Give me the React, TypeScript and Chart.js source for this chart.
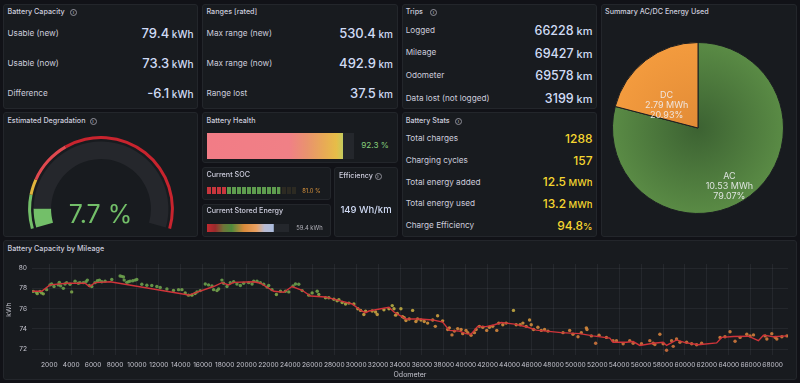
import React, { useEffect, useRef } from 'react';
import { Chart, registerables } from 'chart.js';
Chart.register(...registerables);

const FONT = 'Inter, "Noto Sans", sans-serif';

// ---------------- data ----------------
const capLabels = ['Usable (new)', 'Usable (now)', 'Difference'];
const capValues = ['79.4', '73.3', '-6.1'];
const capUnits = [' kWh', ' kWh', ' kWh'];
const rangeLabels = ['Max range (new)', 'Max range (now)', 'Range lost'];
const rangeValues = ['530.4', '492.9', '37.5'];
const rangeUnits = [' km', ' km', ' km'];
const tripLabels = ['Logged', 'Mileage', 'Odometer', 'Data lost (not logged)'];
const tripValues = ['66228', '69427', '69578', '3199'];
const tripUnits = [' km', ' km', ' km', ' km'];
const statLabels = ['Total charges', 'Charging cycles', 'Total energy added', 'Total energy used', 'Charge Efficiency'];
const statValues = ['1288', '157', '12.5', '13.2', '94.8'];
const statUnits = ['', '', ' MWh', ' MWh', '%'];

const degradation = 7.7;
const gaugeMax = 100;
const gaugeSteps = [0, 13, 19, 36];
const batteryHealth = 92.3;
const socPercent = 81.0;
const storedEnergy = 59.4;
const capacityNow = 73.3;
const efficiency = 149;

const pieLabels = ['AC', 'DC'];
const pieMWh = [10.53, 2.79];
const piePct = [79.07, 20.93];

const lineOdo = [446, 1300, 2060, 3580, 5260, 5660, 6170, 7550, 14710, 16990, 17750, 18360, 18820, 20650, 21260, 22480, 23390, 24150, 25070, 25830, 27200, 28570, 29640, 30400, 30860, 31160, 32990, 33450, 33930, 34540, 35760, 36980, 37890, 38500, 39420, 40030, 40480, 41090, 41850, 42620, 43230, 44450, 45670, 46430, 47340, 48710, 50390, 51610, 53140, 53440, 54660, 55270, 55880, 57100, 58010, 58320, 59230, 60000, 61220, 62890, 63350, 64420, 65790, 66700, 67160, 68080, 69300];
const lineKwh = [77.71, 77.71, 78.34, 78.5, 78.5, 78.18, 78.56, 78.65, 77.34, 78.18, 78.56, 78.34, 78.59, 78.65, 78.5, 77.71, 77.62, 78.18, 77.81, 77.24, 77.15, 76.77, 76.46, 75.83, 75.61, 75.77, 76.14, 75.67, 75.36, 74.98, 74.98, 74.89, 74.67, 73.86, 73.79, 73.54, 73.48, 74.26, 74.23, 74.42, 74.64, 74.48, 74.17, 73.89, 73.79, 73.64, 73.54, 73.32, 73.1, 72.7, 72.7, 72.76, 72.38, 72.6, 72.7, 72.38, 72.92, 72.66, 72.45, 72.63, 73.17, 73.26, 73.29, 72.85, 73.39, 73.23, 73.32];

const pointOdo = [537, 842, 900, 1150, 1300, 1450, 1760, 2060, 2210, 2430, 2820, 2910, 3040, 3280, 3430, 3580, 3890, 4040, 4350, 4650, 4800, 5110, 5350, 5470, 5650, 5870, 6170, 6390, 6570, 6790, 7090, 7700, 8460, 8610, 8770, 8830, 9070, 9220, 9370, 9620, 9830, 9980, 10440, 10900, 11350, 11810, 12120, 12730, 13330, 13790, 14100, 14400, 14700, 15010, 15300, 15470, 15770, 16230, 16530, 16840, 16990, 17300, 17450, 17750, 17900, 18210, 18510, 18820, 19120, 19430, 19730, 20190, 20500, 20650, 20950, 21260, 21560, 21870, 22020, 22320, 22720, 23090, 23540, 23850, 24240, 24460, 24760, 25070, 25680, 25980, 26440, 26590, 27200, 27500, 27960, 28260, 28420, 28720, 29030, 29330, 29790, 30150, 30400, 30700, 30860, 31460, 31770, 31920, 32530, 32990, 33290, 33450, 33600, 33750,
  34080, 34230, 34380, 34540, 34840, 35150, 35450, 35600, 35910, 36210, 36520, 36980, 37220, 37430, 37890, 38350, 38500, 38740, 38960, 39260, 39570, 39720, 40020, 40180, 40480, 40790, 40940, 41240, 41550, 41910, 42160, 42460, 42830, 43010, 43380, 43680, 44350, 44600, 44960, 45210, 45510, 45820, 45970, 46180, 46580, 46890, 47190, 47500, 48870, 49480, 49780, 50240, 50540, 51000, 51060, 51460, 51850, 52160, 52830, 53440, 53750, 54360, 54960, 55270, 56030, 56790, 57100, 57250, 57710, 58010, 58320, 58780, 58930, 59230, 59540, 60150, 60610, 61060, 61520, 63200, 63650, 64110, 64570, 65030, 65640, 65940, 66250, 67310, 67470, 67920, 68230, 68380, 68840, 69300];
const pointKwh = [77.7, 77.6, 77.48, 77.7, 77.55, 77.46, 77.87, 78.34, 78.43, 78.18, 78.34, 78.59, 78.24, 78.0, 78.43, 78.56, 78.4, 77.65, 78.71, 78.5, 78.56, 78.56, 78.65, 78.81, 78.28, 78.18, 78.56, 78.75, 78.81, 78.65, 78.71, 78.87, 79.22, 79.18, 79.12, 78.81, 78.59, 78.65, 78.71, 78.75, 78.81, 78.87, 78.4, 78.31, 78.28, 78.18, 78.09, 77.93, 77.8, 77.87, 77.87, 77.55, 77.33, 77.33, 77.49, 77.65, 77.78, 78.43, 78.34, 78.24, 77.87, 77.78, 77.93, 78.81, 78.5, 78.18, 78.56, 78.65, 78.43, 78.28, 78.5, 78.56, 78.43, 78.71, 78.71, 78.56, 78.4, 78.12, 78.28, 77.87, 77.4, 77.71, 77.71, 77.65, 78.24, 78.43, 78.4, 77.78, 77.33, 77.55, 77.71, 77.4, 77.08, 77.08, 76.93, 76.77, 76.87, 76.61, 76.46, 76.55, 76.46, 75.99, 75.83, 75.42, 75.74, 75.77, 75.67, 75.42, 75.89, 75.99, 76.3, 75.99, 75.36, 75.52,
  75.99, 75.2, 75.11, 74.83, 74.98, 75.83, 74.73, 74.98, 74.89, 74.73, 74.58, 74.89, 74.26, 75.3, 74.8, 73.95, 74.11, 73.42, 73.79, 74.04, 73.95, 73.54, 73.86, 73.64, 73.39, 73.64, 73.95, 74.26, 74.17, 73.86, 74.17, 74.26, 73.86, 74.58, 74.42, 74.58, 75.83, 74.42, 74.42, 74.58, 74.26, 74.89, 74.42, 73.95, 74.17, 73.86, 73.95, 73.79, 73.64, 73.86, 73.48, 73.23, 73.64, 74.11, 73.95, 73.32, 72.6, 73.39, 73.17, 72.85, 72.85, 72.54, 72.85, 72.6, 72.54, 72.85, 72.6, 72.48, 73.48, 72.54, 71.91, 72.85, 72.29, 73.01, 72.7, 72.7, 72.54, 72.45, 72.6, 73.17, 73.23, 73.73, 72.79, 73.17, 73.48, 73.32, 73.42, 73.32, 73.01, 73.54, 73.17, 73.01, 73.23, 73.32];

const xTickValues = [2000, 4000, 6000, 8000, 10000, 12000, 14000, 16000, 18000, 20000, 22000, 24000, 26000, 28000, 30000, 32000, 34000, 36000, 38000, 40000, 42000, 44000, 46000, 48000, 50000, 52000, 54000, 56000, 58000, 60000, 62000, 64000, 66000, 68000];
const yTickValues = [72, 74, 76, 78, 80];

// ---------------- styling helpers ----------------
const COLOR_STOPS: [number, number[]][] = [
  [72, [205, 110, 60]],
  [74, [212, 135, 60]],
  [75, [208, 152, 62]],
  [76, [192, 172, 66]],
  [77, [148, 170, 70]],
  [78, [108, 160, 76]],
];
function kwhColor(v: number) {
  if (v <= COLOR_STOPS[0][0]) return `rgba(${COLOR_STOPS[0][1].join(',')},0.9)`;
  for (let i = 1; i < COLOR_STOPS.length; i++) {
    const [v1, c1] = COLOR_STOPS[i];
    const [v0, c0] = COLOR_STOPS[i - 1];
    if (v <= v1) {
      const t = (v - v0) / (v1 - v0);
      const c = c0.map((a, k) => Math.round(a + (c1[k] - a) * t));
      return `rgba(${c.join(',')},0.9)`;
    }
  }
  return `rgba(${COLOR_STOPS[COLOR_STOPS.length - 1][1].join(',')},0.9)`;
}

const PANEL_BG = '#181b1f';
const TITLE = 7.2;
const LABEL = 8.2;

function Txt(props: any) {
  const { x, y, size, color = '#ccccdc', weight = 400, align = 'left', children } = props;
  const style: any = {
    position: 'absolute', top: y - size * 0.6, height: size * 1.2, lineHeight: `${size * 1.2}px`,
    fontSize: size, fontWeight: weight, color, whiteSpace: 'nowrap', fontFamily: FONT,
  };
  if (align === 'left') style.left = x;
  else if (align === 'right') style.right = 800 - x;
  else { style.left = x; style.transform = 'translateX(-50%)'; }
  return <div style={style}>{children}</div>;
}

function Info({ x, y }: any) {
  return <div style={{ position: 'absolute', left: x - 3.5, top: y - 3.5, width: 7, height: 7, borderRadius: '50%', border: '1px solid #8f8f99', boxSizing: 'border-box', fontSize: 5, lineHeight: '5px', textAlign: 'center', color: '#8f8f99', fontFamily: FONT, fontWeight: 700 }}>i</div>;
}

function Panel({ x, y, w, h }: any) {
  return <div style={{ position: 'absolute', left: x, top: y, width: w, height: h, background: PANEL_BG, border: '1px solid #23262b', borderRadius: 3, boxSizing: 'border-box' }} />;
}

function Val({ x, y, num, unit, size, usize, color }: any) {
  return (
    <Txt x={x} y={y} size={size} color={color} weight={500} align="right">
      <span>{num}</span><span style={{ fontSize: usize }}>{unit}</span>
    </Txt>
  );
}

// ---------------- charts ----------------
function MileageChart() {
  const ref = useRef<HTMLCanvasElement>(null);
  useEffect(() => {
    const grid = { color: 'rgba(204,204,220,0.07)', drawTicks: false, lineWidth: 1 };
    const tickFont = { family: FONT, size: 6.6 };
    const chart = new Chart(ref.current as HTMLCanvasElement, {
      type: 'scatter',
      data: {
        datasets: [
          { data: lineOdo.map((x, i) => ({ x, y: lineKwh[i] })), showLine: true, borderColor: '#d0343a', borderWidth: 1.4, pointRadius: 0, tension: 0 } as any,
          { data: pointOdo.map((x, i) => ({ x, y: pointKwh[i] })), pointRadius: 1.7, pointBackgroundColor: pointKwh.map(kwhColor), pointBorderWidth: 0, borderWidth: 0 } as any,
        ],
      },
      options: {
        responsive: false, animation: false, events: [],
        layout: { padding: { top: 4.75, right: 9, bottom: 0, left: 0 } },
        plugins: { legend: { display: false }, tooltip: { enabled: false } },
        scales: {
          x: {
            type: 'linear', min: 420, max: 69400,
            afterBuildTicks: (s: any) => { s.ticks = xTickValues.map((value) => ({ value })); },
            afterFit: (s: any) => { s.height = 24.6; },
            grid, border: { display: false },
            ticks: { color: '#c4c4ce', font: tickFont, padding: 6, maxRotation: 0, autoSkip: false, callback: (v: any) => String(v) },
            title: { display: true, text: 'Odometer', color: '#c4c4ce', font: { family: FONT, size: 7 }, padding: { top: 0, bottom: 0.5 } },
          },
          y: {
            type: 'linear', min: 71.4, max: 80.4,
            afterBuildTicks: (s: any) => { s.ticks = yTickValues.map((value) => ({ value })); },
            afterFit: (s: any) => { s.width = 29; },
            grid, border: { display: false },
            ticks: { color: '#c4c4ce', font: tickFont, padding: 5, callback: (v: any) => String(v) },
            title: { display: true, text: 'kWh', color: '#c4c4ce', font: { family: FONT, size: 6.6 }, padding: { top: 2.5, bottom: 0 } },
          },
        },
      } as any,
    });
    return () => chart.destroy();
  }, []);
  return <canvas ref={ref} width={794} height={125} style={{ position: 'absolute', left: 3, top: 255, width: 794, height: 125 }} />;
}

function PieChart() {
  const ref = useRef<HTMLCanvasElement>(null);
  useEffect(() => {
    const grad = (inner: string, outer: string) => (ctx: any) => {
      const ca = ctx.chart.chartArea;
      if (!ca) return outer;
      const cx = (ca.left + ca.right) / 2, cy = (ca.top + ca.bottom) / 2;
      const r = Math.min(ca.right - ca.left, ca.bottom - ca.top) / 2;
      const g = ctx.chart.ctx.createRadialGradient(cx, cy, 0, cx, cy, r);
      g.addColorStop(0, inner);
      g.addColorStop(1, outer);
      return g;
    };
    const fills = [grad('#3c6232', '#5a8b45'), grad('#e28b36', '#f39b3e')];
    const labelPlugin = {
      id: 'pieLabels',
      afterDatasetsDraw(chart: any) {
        const meta = chart.getDatasetMeta(0);
        const c = chart.ctx;
        meta.data.forEach((arc: any, i: number) => {
          const p = arc.getProps(['x', 'y', 'startAngle', 'endAngle', 'outerRadius'], true);
          const mid = (p.startAngle + p.endAngle) / 2;
          const r = p.outerRadius * 0.6;
          const px = p.x + Math.cos(mid) * r;
          const py = p.y + Math.sin(mid) * r;
          const lines = [pieLabels[i], pieMWh[i].toFixed(2) + ' MWh', piePct[i].toFixed(2) + '%'];
          c.save();
          c.font = `9px ${FONT}`;
          c.fillStyle = 'rgba(240,240,245,0.88)';
          c.textAlign = 'center';
          c.textBaseline = 'middle';
          lines.forEach((t, k) => c.fillText(t, px, py + 8 + k * 9.7));
          c.restore();
        });
      },
    };
    const chart = new Chart(ref.current as HTMLCanvasElement, {
      type: 'pie',
      data: { labels: pieLabels, datasets: [{ data: pieMWh, backgroundColor: (ctx: any) => fills[ctx.dataIndex](ctx), borderColor: '#1b1e22', borderWidth: 1 }] },
      options: { responsive: false, animation: false, events: [], plugins: { legend: { display: false }, tooltip: { enabled: false } } } as any,
      plugins: [labelPlugin],
    });
    return () => chart.destroy();
  }, []);
  return <canvas ref={ref} width={172} height={172} style={{ position: 'absolute', left: 612, top: 41.5, width: 172, height: 172 }} />;
}

function Gauge() {
  const ref = useRef<HTMLCanvasElement>(null);
  useEffect(() => {
    const seg = gaugeSteps.map((s, i) => (i < gaugeSteps.length - 1 ? gaugeSteps[i + 1] : gaugeMax) - s);
    const chart = new Chart(ref.current as HTMLCanvasElement, {
      type: 'doughnut',
      data: {
        datasets: [
          { data: seg, backgroundColor: ['#73bf69', '#e0b53c', '#e0494f', '#c8242e'], borderWidth: 0, weight: 3 } as any,
          { data: [gaugeMax], backgroundColor: ['rgba(0,0,0,0)'], borderWidth: 0, weight: 2.5 } as any,
          { data: [degradation, gaugeMax - degradation], backgroundColor: ['#73bf69', '#25272c'], borderWidth: 0, weight: 17.5 } as any,
        ],
      },
      options: {
        responsive: false, animation: false, events: [],
        rotation: -106, circumference: 212, cutout: `${(50 / 73) * 100}%`,
        plugins: { legend: { display: false }, tooltip: { enabled: false } },
      } as any,
    });
    return () => chart.destroy();
  }, []);
  return <canvas ref={ref} width={146} height={93} style={{ position: 'absolute', left: 28, top: 136, width: 146, height: 93 }} />;
}

function BarGauge({ left, top, width, height, value, max, stops, track, cells }: any) {
  const ref = useRef<HTMLCanvasElement>(null);
  useEffect(() => {
    const bg = (ctx: any) => {
      const ca = ctx.chart.chartArea;
      if (!ca) return stops[0][1];
      const g = ctx.chart.ctx.createLinearGradient(ca.left, 0, ca.right, 0);
      stops.forEach(([o, c]: any) => g.addColorStop(o, c));
      return g;
    };
    const trackPlugin = {
      id: 'track',
      beforeDatasetsDraw(chart: any) {
        const { left: l, top: t, right: r, bottom: b } = chart.chartArea;
        const c = chart.ctx;
        c.save();
        c.fillStyle = track;
        c.fillRect(l, t, r - l, b - t);
        c.restore();
      },
      afterDatasetsDraw(chart: any) {
        if (!cells) return;
        const { left: l, top: t, right: r, bottom: b } = chart.chartArea;
        const c = chart.ctx;
        const cw = (r - l) / cells;
        c.save();
        c.fillStyle = PANEL_BG;
        for (let i = 1; i <= cells; i++) c.fillRect(l + i * cw - 1, t, 1, b - t);
        c.restore();
      },
    };
    const chart = new Chart(ref.current as HTMLCanvasElement, {
      type: 'bar',
      data: { labels: ['v'], datasets: [{ data: [value], backgroundColor: bg, borderWidth: 0, barPercentage: 1, categoryPercentage: 1 }] },
      options: {
        indexAxis: 'y', responsive: false, animation: false, events: [],
        plugins: { legend: { display: false }, tooltip: { enabled: false } },
        scales: { x: { display: false, min: 0, max }, y: { display: false } },
      } as any,
      plugins: [trackPlugin],
    });
    return () => chart.destroy();
  }, []);
  return <canvas ref={ref} width={width} height={height} style={{ position: 'absolute', left, top, width, height }} />;
}

// ---------------- app ----------------
export default function App() {
  const statBlue = '#d0dbf5';
  const yellow = '#f5d630';
  return (
    <div style={{ position: 'fixed', left: 0, top: 0, width: 800, height: 383, background: '#111217', overflow: 'hidden', fontFamily: FONT }}>
      <Panel x={3} y={4} w={195} h={105} />
      <Panel x={202} y={4} w={196} h={105} />
      <Panel x={402} y={4} w={195} h={105} />
      <Panel x={601} y={4} w={196} h={233} />
      <Panel x={3} y={112} w={195} h={125} />
      <Panel x={202} y={112} w={196} h={51} />
      <Panel x={202} y={167} w={129} h={33} />
      <Panel x={202} y={204} w={129} h={33} />
      <Panel x={334} y={167} w={64} h={70} />
      <Panel x={402} y={112} w={195} h={125} />
      <Panel x={3} y={240} w={794} h={140} />

      {/* Battery Capacity */}
      <Txt x={7.5} y={12.7} size={TITLE} weight={500}>Battery Capacity</Txt>
      <Info x={73.5} y={12.7} />
      {capLabels.map((l, i) => <Txt key={l} x={7.5} y={34.3 + i * 30} size={LABEL}>{l}</Txt>)}
      {capValues.map((v, i) => <Val key={i} x={193.5} y={34 + i * 30} num={v} unit={capUnits[i]} size={13} usize={10} color={statBlue} />)}

      {/* Ranges */}
      <Txt x={206.5} y={12.7} size={TITLE} weight={500}>Ranges [rated]</Txt>
      {rangeLabels.map((l, i) => <Txt key={l} x={206.5} y={34.3 + i * 30} size={LABEL}>{l}</Txt>)}
      {rangeValues.map((v, i) => <Val key={i} x={393} y={34 + i * 30} num={v} unit={rangeUnits[i]} size={13} usize={10} color={statBlue} />)}

      {/* Trips */}
      <Txt x={405.7} y={12.7} size={TITLE} weight={500}>Trips</Txt>
      <Info x={433.5} y={12.7} />
      {tripLabels.map((l, i) => <Txt key={l} x={405.7} y={30.7 + i * 22.7} size={LABEL}>{l}</Txt>)}
      {tripValues.map((v, i) => <Val key={i} x={592.5} y={30.5 + i * 22.7} num={v} unit={tripUnits[i]} size={12.5} usize={11} color={statBlue} />)}

      {/* Pie */}
      <Txt x={605} y={12.7} size={TITLE} weight={500}>Summary AC/DC Energy Used</Txt>
      <PieChart />

      {/* Estimated Degradation */}
      <Txt x={7.5} y={121.7} size={TITLE} weight={500}>Estimated Degradation</Txt>
      <Info x={93} y={121.7} />
      <Gauge />
      <Txt x={100.5} y={214} size={25} color="#73bf69" align="center">{degradation.toFixed(1)} %</Txt>

      {/* Battery Health */}
      <Txt x={206.5} y={121.7} size={TITLE} weight={500}>Battery Health</Txt>
      <BarGauge left={207} top={133} width={147} height={26} value={batteryHealth} max={100} track="#24272c"
        stops={[[0, '#f27c86'], [0.56, '#f08086'], [0.68, '#e9936e'], [0.8, '#e8ab55'], [0.88, '#e6bd48'], [0.92, '#c9c95a'], [0.935, '#a4d27c'], [1, '#a4d27c']]} />
      <Txt x={375} y={146} size={8.2} color="#86cf7c" align="center">{batteryHealth.toFixed(1)} %</Txt>

      {/* Current SOC */}
      <Txt x={206.5} y={175.7} size={TITLE} weight={500}>Current SOC</Txt>
      <BarGauge left={207} top={187} width={90} height={7} value={socPercent} max={100} track="#2c2a22" cells={18}
        stops={[[0, '#c8363d'], [0.22, '#c8363d'], [0.2201, '#5e9c4e'], [1, '#5e9c4e']]} />
      <Txt x={311.5} y={191} size={5.8} color="#d8923c" align="center">{socPercent.toFixed(1)} %</Txt>

      {/* Current Stored Energy */}
      <Txt x={206.5} y={211.7} size={TITLE} weight={500}>Current Stored Energy</Txt>
      <BarGauge left={207} top={224} width={82} height={8} value={storedEnergy} max={capacityNow} track="#24272c"
        stops={[[0, '#c22a30'], [0.1, '#9a2a2c'], [0.2, '#6e7438'], [0.3, '#4f8a3c'], [0.45, '#d8893a'], [0.6, '#e9a061'], [0.7, '#b9bad0'], [0.83, '#a9bde2'], [1, '#a9bde2']]} />
      <Txt x={309.5} y={228} size={5.8} color="#b4b4bc" align="center">{storedEnergy.toFixed(1)} kWh</Txt>

      {/* Efficiency */}
      <Txt x={339} y={176} size={TITLE} weight={500}>Efficiency</Txt>
      <Info x={378} y={176} />
      <Txt x={366} y={210} size={9.5} color={statBlue} weight={500} align="center">{efficiency} Wh/km</Txt>

      {/* Battery Stats */}
      <Txt x={405.7} y={121.7} size={TITLE} weight={500}>Battery Stats</Txt>
      <Info x={458.5} y={121.7} />
      {statLabels.map((l, i) => <Txt key={l} x={405.7} y={139 + i * 21.75} size={LABEL}>{l}</Txt>)}
      {statValues.map((v, i) => <Val key={i} x={592.5} y={139 + i * 21.75} num={v} unit={statUnits[i]} size={12} usize={9.5} color={yellow} />)}

      {/* Battery Capacity by Mileage */}
      <Txt x={7.5} y={249} size={TITLE} weight={500}>Battery Capacity by Mileage</Txt>
      <MileageChart />
    </div>
  );
}
